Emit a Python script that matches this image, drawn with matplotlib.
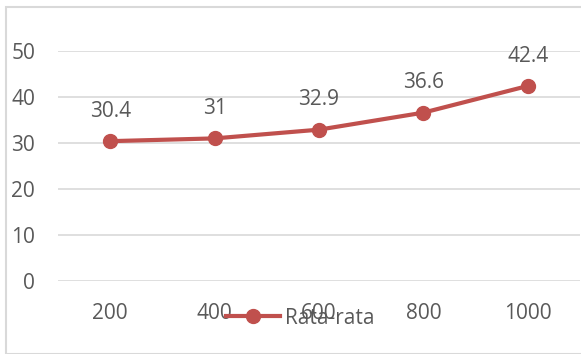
import matplotlib
matplotlib.use("Agg")
import matplotlib.pyplot as plt
from matplotlib.patches import Rectangle
from matplotlib.lines import Line2D

categories = ["200", "400", "600", "800", "1000"]
values = [30.4, 31, 32.9, 36.6, 42.4]
value_labels = ["30.4", "31", "32.9", "36.6", "42.4"]
series_name = "Rata-rata"
yticks = [0, 10, 20, 30, 40, 50]

RED = "#C0504D"
TXT = "#595959"
GRID = "#D9D9D9"
FS = 15

plt.rcParams['font.family'] = ['Open Sans', 'DejaVu Sans']

W, H = 581, 354
fig = plt.figure(figsize=(W / 100, H / 100), dpi=100)

# outer chart border
fig.patches.append(Rectangle((6 / W, 0), 1, 1 - 7 / H, transform=fig.transFigure,
                             fill=False, edgecolor=GRID, linewidth=1.5))

ax = fig.add_axes([58 / W, 1 - 281 / H, (580 - 58) / W, (281 - 51) / H])
x = list(range(len(categories)))
ax.plot(x, values, color=RED, linewidth=3, marker='o', markersize=10,
        solid_capstyle='round', zorder=3)
for xi, v, lab in zip(x, values, value_labels):
    ax.annotate(lab, (xi, v), xytext=(0, 21.5), textcoords='offset points',
                ha='center', va='center', fontsize=FS, color=TXT)

ax.set_xlim(-0.5, len(categories) - 0.5)
ax.set_ylim(0, 50)
ax.set_yticks(yticks)
ax.set_yticklabels([str(t) for t in yticks], fontsize=FS, color=TXT)
ax.set_xticks(x)
ax.set_xticklabels(categories, fontsize=FS, color=TXT)
ax.tick_params(axis='both', length=0)
ax.tick_params(axis='y', pad=16.5)
ax.tick_params(axis='x', pad=16)
ax.grid(axis='y', color=GRID, linewidth=1.2)
ax.set_axisbelow(True)
for s in ax.spines.values():
    s.set_visible(False)

handle = Line2D([], [], color=RED, linewidth=3, marker='o', markersize=10)
fig.legend([handle], [series_name], loc='center', bbox_to_anchor=(300 / W, 1 - 318 / H),
           frameon=False, fontsize=FS, labelcolor=TXT, handlelength=2.6,
           handletextpad=0.25, borderpad=0, borderaxespad=0)

fig.savefig("out.png", dpi=100)
